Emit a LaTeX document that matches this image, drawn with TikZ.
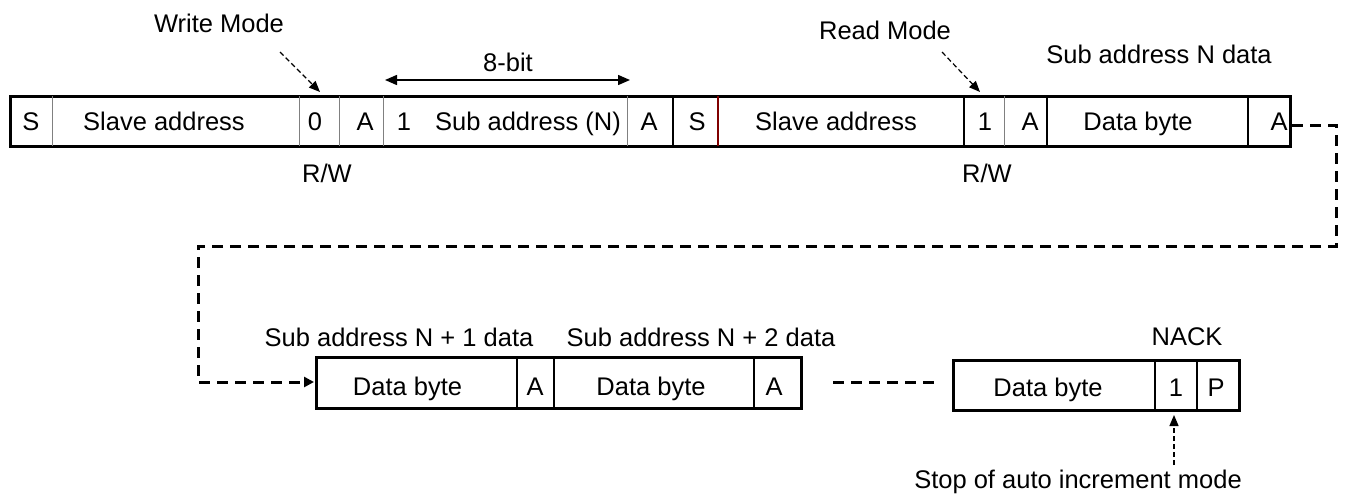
\documentclass[tikz,border=0pt]{standalone}
\usepackage{fontspec}
\setmainfont{Liberation Sans}
\usetikzlibrary{arrows.meta}
\begin{document}
\begin{tikzpicture}[x=1pt,y=-1pt,
  lbl/.style={anchor=base,inner sep=0pt,font=\fontsize{25.5}{30}\selectfont},
  outer/.style={line width=3pt},
  thindiv/.style={line width=1pt,draw=gray},
  middiv/.style={line width=2pt},
  reddiv/.style={line width=1.4pt,draw={rgb,255:red,128;green,0;blue,0}},
  bigdash/.style={line width=3pt,dash pattern=on 11pt off 7pt},
  smalldash/.style={line width=1.2pt,dash pattern=on 5pt off 3pt,-{Triangle[length=11pt,width=9pt]}},
  dimarrow/.style={line width=1.5pt,{Triangle[length=12pt,width=10pt]}-{Triangle[length=12pt,width=10pt]}},
]
\useasboundingbox (0,0) rectangle (1351,493);

% ---------- top row ----------
\draw[outer] (10,96) rectangle (1290,146);
\draw[thindiv] (52,96) -- (52,146);
\draw[thindiv] (299,96) -- (299,146);
\draw[thindiv] (339,96) -- (339,146);
\draw[thindiv] (383,96) -- (383,146);
\draw[thindiv] (627,96) -- (627,146);
\draw[middiv] (673,96) -- (673,146);
\draw[reddiv] (718,96) -- (718,146);
\draw[middiv] (964,96) -- (964,146);
\draw[thindiv] (1004,96) -- (1004,146);
\draw[middiv] (1047,96) -- (1047,146);
\draw[middiv] (1248,96) -- (1248,146);

\node[lbl] (t1) at (31,130) {S};
\node[lbl] (t2) at (164,130) {Slave address};
\node[lbl] (t3) at (315,130) {0};
\node[lbl] (t4) at (365,130) {A};
\node[lbl] (t5) at (404,130) {1};
\node[lbl] (t6) at (528,130) {Sub address (N)};
\node[lbl] (t7) at (649,130) {A};
\node[lbl] (t8) at (697,130) {S};
\node[lbl] (t9) at (836,130) {Slave address};
\node[lbl] (t10) at (985,130) {1};
\node[lbl] (t11) at (1030,130) {A};
\node[lbl] (t12) at (1138,130) {Data byte};
\node[lbl] (t13) at (1279,130) {A};

% labels above / below top row
\node[lbl] (wm) at (219,32) {Write Mode};
\node[lbl] (eb) at (508,71) {8-bit};
\node[lbl] (rm) at (885,39) {Read Mode};
\node[lbl] (sand) at (1159,63) {Sub address N data};
\node[lbl] (rw1) at (327,182.5) {R/W};
\node[lbl] (rw2) at (987,182.5) {R/W};

\coordinate (wmS) at (280,52);
\coordinate (wmE) at (320,92);
\coordinate (rmS) at (942,52);
\coordinate (rmE) at (980,92);
\draw[smalldash] (wmS) -- (wmE);
\draw[smalldash] (rmS) -- (rmE);

\coordinate (ebL) at (385,80);
\coordinate (ebR) at (630,80);
\draw[dimarrow] (ebL) -- (ebR);

% ---------- bottom row 1 ----------
\draw[outer] (316,357) rectangle (801,408);
\draw[middiv] (517,357) -- (517,408);
\draw[middiv] (554,357) -- (554,408);
\draw[middiv] (754,357) -- (754,408);
\node[lbl] (b1) at (407.5,395) {Data byte};
\node[lbl] (b2) at (535,395) {A};
\node[lbl] (b3) at (651,395) {Data byte};
\node[lbl] (b4) at (774,395) {A};
\node[lbl] (s1) at (399,346) {Sub address N + 1 data};
\node[lbl] (s2) at (701,346) {Sub address N + 2 data};

% ---------- bottom row 2 ----------
\draw[outer] (953,360) rectangle (1239,410);
\draw[middiv] (1155,360) -- (1155,410);
\draw[middiv] (1197,360) -- (1197,410);
\node[lbl] (c1) at (1048,396) {Data byte};
\node[lbl] (c2) at (1176,396) {1};
\node[lbl] (c3) at (1216,396) {P};
\node[lbl] (nack) at (1187,345) {NACK};
\node[lbl] (stop) at (1078,488) {Stop of auto increment mode};

\coordinate (stS) at (1174,465);
\coordinate (stE) at (1174,415);
\draw[smalldash] (stS) -- (stE);

% ---------- dashed connectors ----------
\coordinate (d0) at (1292,125);
\coordinate (d1) at (1336,125);
\coordinate (d2) at (1336,246);
\coordinate (d3) at (198,246);
\coordinate (d4) at (198,382);
\coordinate (d5) at (314,382);
\draw[bigdash,-{Triangle[length=10pt,width=10pt]}] (d0) -- (d1) -- (d2) -- (d3) -- (d4) -- (d5);

\coordinate (m0) at (833,382);
\coordinate (m1) at (939,382);
\draw[bigdash] (m0) -- (m1);
\end{tikzpicture}
\end{document}
